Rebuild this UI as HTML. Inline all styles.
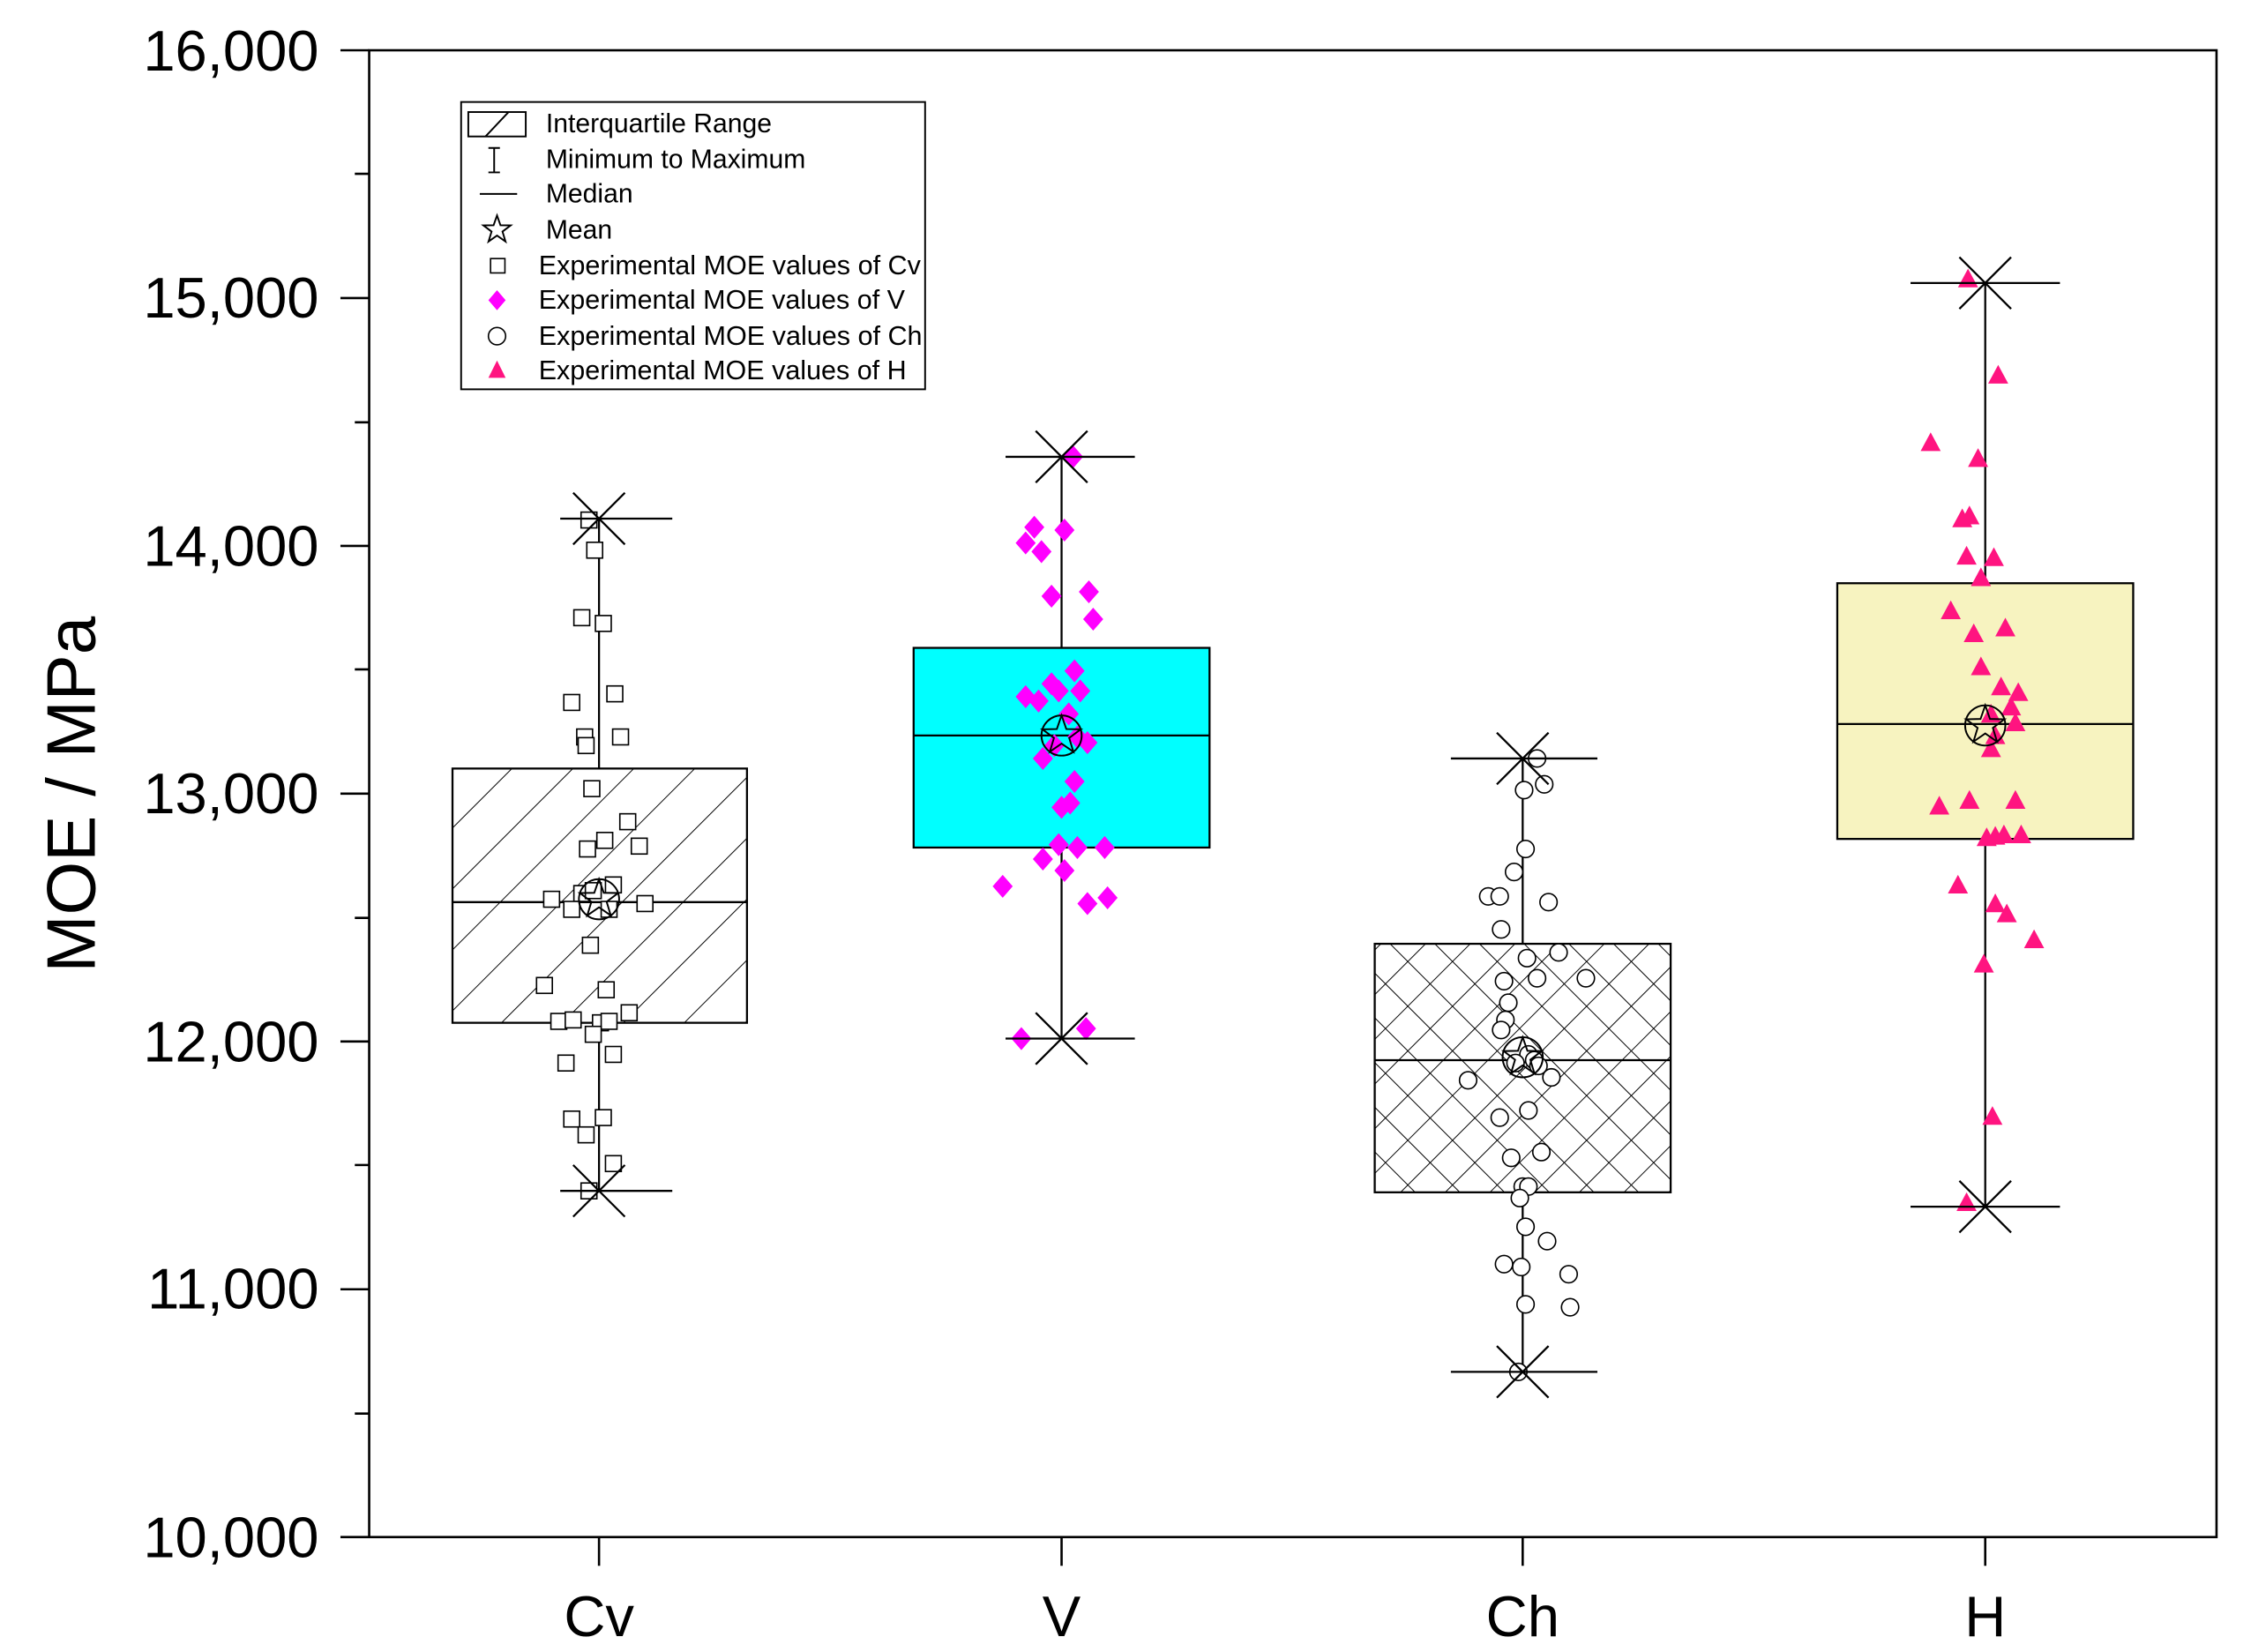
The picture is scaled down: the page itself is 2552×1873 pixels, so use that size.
<!DOCTYPE html>
<html><head><meta charset="utf-8"><style>html,body{margin:0;padding:0;background:#fff}svg{display:block}</style></head>
<body>
<svg width="2552" height="1873" viewBox="0 0 1567 1150" preserveAspectRatio="none" xmlns="http://www.w3.org/2000/svg" font-family="Liberation Sans, Arial, sans-serif">
<defs>
<pattern id="diag" patternUnits="userSpaceOnUse" width="30" height="30" patternTransform="rotate(45)">
<line x1="0" y1="0" x2="0" y2="30" stroke="#000" stroke-width="1.2"/>
</pattern>
<pattern id="cross" patternUnits="userSpaceOnUse" width="22" height="22" patternTransform="rotate(45)">
<line x1="0" y1="0" x2="0" y2="22" stroke="#000" stroke-width="1.2"/>
<line x1="0" y1="0" x2="22" y2="0" stroke="#000" stroke-width="1.2"/>
</pattern>
</defs>
<rect x="257" y="35" width="1286" height="1035" fill="#fff" stroke="#000" stroke-width="1.6"/>
<g stroke="#000" stroke-width="1.6">
<line x1="237" y1="35" x2="257" y2="35"/><line x1="237" y1="207.5" x2="257" y2="207.5"/><line x1="237" y1="380" x2="257" y2="380"/><line x1="237" y1="552.5" x2="257" y2="552.5"/><line x1="237" y1="725" x2="257" y2="725"/><line x1="237" y1="897.5" x2="257" y2="897.5"/><line x1="237" y1="1070" x2="257" y2="1070"/>
<line x1="247" y1="121" x2="257" y2="121"/><line x1="247" y1="294" x2="257" y2="294"/><line x1="247" y1="466" x2="257" y2="466"/><line x1="247" y1="639" x2="257" y2="639"/><line x1="247" y1="811" x2="257" y2="811"/><line x1="247" y1="984" x2="257" y2="984"/>
<line x1="417" y1="1070" x2="417" y2="1090"/><line x1="739" y1="1070" x2="739" y2="1090"/><line x1="1060" y1="1070" x2="1060" y2="1090"/><line x1="1382" y1="1070" x2="1382" y2="1090"/>
</g>
<g font-size="40" text-anchor="end" fill="#000">
<text x="222" y="49">16,000</text><text x="222" y="221">15,000</text><text x="222" y="394">14,000</text><text x="222" y="566">13,000</text><text x="222" y="739">12,000</text><text x="222" y="911">11,000</text><text x="222" y="1084">10,000</text>
</g>
<g font-size="40" text-anchor="middle"><text x="417" y="1139">Cv</text><text x="739" y="1139">V</text><text x="1060" y="1139">Ch</text><text x="1382" y="1139">H</text></g>
<text transform="translate(66,553) rotate(-90)" font-size="48" text-anchor="middle">MOE / MPa</text>

<g stroke="#000" stroke-width="1.4" fill="none">
<line x1="417" y1="361" x2="417" y2="829"/>
<line x1="739" y1="318" x2="739" y2="723"/>
<line x1="1060" y1="528" x2="1060" y2="955"/>
<line x1="1382" y1="197" x2="1382" y2="840"/>
</g>
<rect x="315" y="535" width="205" height="177" fill="#fff" stroke="none"/>
<rect x="315" y="535" width="205" height="177" fill="url(#diag)" stroke="#000" stroke-width="1.4"/>
<rect x="636" y="451" width="206" height="139" fill="#00ffff" stroke="#000" stroke-width="1.4"/>
<rect x="957" y="657" width="206" height="173" fill="#fff" stroke="none"/>
<rect x="957" y="657" width="206" height="173" fill="url(#cross)" stroke="#000" stroke-width="1.4"/>
<rect x="1279" y="406" width="206" height="178" fill="#f7f3c0" stroke="#000" stroke-width="1.4"/>
<g stroke="#000" stroke-width="1.4">
<line x1="315" y1="628" x2="520" y2="628"/><line x1="636" y1="512" x2="842" y2="512"/><line x1="957" y1="738" x2="1163" y2="738"/><line x1="1279" y1="504" x2="1485" y2="504"/>
</g>

<g fill="#fff" stroke="#000" stroke-width="1">
<rect x="404.5" y="356.5" width="11" height="11"/><rect x="408.5" y="377.5" width="11" height="11"/><rect x="399.5" y="424.5" width="11" height="11"/><rect x="414.5" y="428.5" width="11" height="11"/><rect x="392.5" y="483.5" width="11" height="11"/><rect x="422.5" y="477.5" width="11" height="11"/><rect x="401.5" y="507.5" width="11" height="11"/><rect x="402.5" y="513.5" width="11" height="11"/><rect x="426.5" y="507.5" width="11" height="11"/><rect x="406.5" y="543.5" width="11" height="11"/><rect x="415.5" y="579.5" width="11" height="11"/><rect x="403.5" y="585.5" width="11" height="11"/><rect x="431.5" y="566.5" width="11" height="11"/><rect x="439.5" y="583.5" width="11" height="11"/><rect x="378.5" y="620.5" width="11" height="11"/><rect x="399.5" y="616.5" width="11" height="11"/><rect x="407.5" y="614.5" width="11" height="11"/><rect x="421.5" y="610.5" width="11" height="11"/><rect x="418.5" y="627.5" width="11" height="11"/><rect x="443.5" y="623.5" width="11" height="11"/><rect x="392.5" y="627.5" width="11" height="11"/><rect x="405.5" y="652.5" width="11" height="11"/><rect x="416.5" y="683.5" width="11" height="11"/><rect x="373.5" y="680.5" width="11" height="11"/><rect x="383.5" y="705.5" width="11" height="11"/><rect x="393.5" y="704.5" width="11" height="11"/><rect x="412.5" y="706.5" width="11" height="11"/><rect x="418.5" y="705.5" width="11" height="11"/><rect x="432.5" y="699.5" width="11" height="11"/><rect x="407.5" y="714.5" width="11" height="11"/><rect x="388.5" y="734.5" width="11" height="11"/><rect x="421.5" y="728.5" width="11" height="11"/><rect x="392.5" y="773.5" width="11" height="11"/><rect x="414.5" y="772.5" width="11" height="11"/><rect x="402.5" y="784.5" width="11" height="11"/><rect x="421.5" y="804.5" width="11" height="11"/><rect x="404.5" y="823.5" width="11" height="11"/>
</g>
<g fill="#ff00ff">
<path d="M747 310l7 8-7 8-7-8z"/><path d="M720 359l7 8-7 8-7-8z"/><path d="M741 361l7 8-7 8-7-8z"/><path d="M714 370l7 8-7 8-7-8z"/><path d="M725 376l7 8-7 8-7-8z"/><path d="M732 407l7 8-7 8-7-8z"/><path d="M758 404l7 8-7 8-7-8z"/><path d="M761 423l7 8-7 8-7-8z"/><path d="M748 459l7 8-7 8-7-8z"/><path d="M714 477l7 8-7 8-7-8z"/><path d="M732 468l7 8-7 8-7-8z"/><path d="M737 473l7 8-7 8-7-8z"/><path d="M752 473l7 8-7 8-7-8z"/><path d="M744 489l7 8-7 8-7-8z"/><path d="M723 480l7 8-7 8-7-8z"/><path d="M750 505l7 8-7 8-7-8z"/><path d="M757 509l7 8-7 8-7-8z"/><path d="M734 511l7 8-7 8-7-8z"/><path d="M726 520l7 8-7 8-7-8z"/><path d="M748 536l7 8-7 8-7-8z"/><path d="M745 551l7 8-7 8-7-8z"/><path d="M739 554l7 8-7 8-7-8z"/><path d="M737 580l7 8-7 8-7-8z"/><path d="M769 582l7 8-7 8-7-8z"/><path d="M750 582l7 8-7 8-7-8z"/><path d="M726 590l7 8-7 8-7-8z"/><path d="M741 598l7 8-7 8-7-8z"/><path d="M698 609l7 8-7 8-7-8z"/><path d="M771 617l7 8-7 8-7-8z"/><path d="M757 621l7 8-7 8-7-8z"/><path d="M756 708l7 8-7 8-7-8z"/><path d="M711 715l7 8-7 8-7-8z"/>
</g>
<g fill="#fff" stroke="#000" stroke-width="1">
<circle cx="1070" cy="528" r="6"/><circle cx="1075" cy="546" r="6"/><circle cx="1061" cy="550" r="6"/><circle cx="1062" cy="591" r="6"/><circle cx="1054" cy="607" r="6"/><circle cx="1036" cy="624" r="6"/><circle cx="1044" cy="624" r="6"/><circle cx="1078" cy="628" r="6"/><circle cx="1045" cy="647" r="6"/><circle cx="1085" cy="663" r="6"/><circle cx="1063" cy="667" r="6"/><circle cx="1047" cy="683" r="6"/><circle cx="1070" cy="681" r="6"/><circle cx="1104" cy="681" r="6"/><circle cx="1050" cy="698" r="6"/><circle cx="1048" cy="710" r="6"/><circle cx="1045" cy="717" r="6"/><circle cx="1064" cy="734" r="6"/><circle cx="1068" cy="738" r="6"/><circle cx="1055" cy="740" r="6"/><circle cx="1071" cy="742" r="6"/><circle cx="1022" cy="752" r="6"/><circle cx="1080" cy="750" r="6"/><circle cx="1044" cy="778" r="6"/><circle cx="1064" cy="773" r="6"/><circle cx="1052" cy="806" r="6"/><circle cx="1073" cy="802" r="6"/><circle cx="1060" cy="826" r="6"/><circle cx="1064" cy="826" r="6"/><circle cx="1058" cy="834" r="6"/><circle cx="1062" cy="854" r="6"/><circle cx="1077" cy="864" r="6"/><circle cx="1047" cy="880" r="6"/><circle cx="1059" cy="882" r="6"/><circle cx="1092" cy="887" r="6"/><circle cx="1062" cy="908" r="6"/><circle cx="1093" cy="910" r="6"/><circle cx="1057" cy="955" r="6"/>
</g>
<g fill="#ff1480">
<path d="M1370 187l7 13h-14z"/><path d="M1391 254l7 13h-14z"/><path d="M1344 301l7 13h-14z"/><path d="M1377 312l7 13h-14z"/><path d="M1366 354l7 13h-14z"/><path d="M1371 352l7 13h-14z"/><path d="M1388 381l7 13h-14z"/><path d="M1369 380l7 13h-14z"/><path d="M1379 395l7 13h-14z"/><path d="M1358 418l7 13h-14z"/><path d="M1374 434l7 13h-14z"/><path d="M1396 430l7 13h-14z"/><path d="M1379 457l7 13h-14z"/><path d="M1393 471l7 13h-14z"/><path d="M1405 475l7 13h-14z"/><path d="M1400 485l7 13h-14z"/><path d="M1386 490l7 13h-14z"/><path d="M1403 496l7 13h-14z"/><path d="M1389 505l7 13h-14z"/><path d="M1386 514l7 13h-14z"/><path d="M1350 554l7 13h-14z"/><path d="M1371 550l7 13h-14z"/><path d="M1403 550l7 13h-14z"/><path d="M1383 576l7 13h-14z"/><path d="M1389 575l7 13h-14z"/><path d="M1395 574l7 13h-14z"/><path d="M1407 574l7 13h-14z"/><path d="M1363 609l7 13h-14z"/><path d="M1389 622l7 13h-14z"/><path d="M1397 629l7 13h-14z"/><path d="M1416 647l7 13h-14z"/><path d="M1381 664l7 13h-14z"/><path d="M1387 770l7 13h-14z"/><path d="M1369 830l7 13h-14z"/>
</g>

<g stroke="#000" stroke-width="1.4" fill="none">
<line x1="390" y1="361" x2="468" y2="361"/><path d="M399 343l36 36M435 343l-36 36"/>
<line x1="390" y1="829" x2="468" y2="829"/><path d="M399 811l36 36M435 811l-36 36"/>
<line x1="700" y1="318" x2="790" y2="318"/><path d="M721 300l36 36M757 300l-36 36"/>
<line x1="700" y1="723" x2="790" y2="723"/><path d="M721 705l36 36M757 705l-36 36"/>
<line x1="1010" y1="528" x2="1112" y2="528"/><path d="M1042 510l36 36M1078 510l-36 36"/>
<line x1="1010" y1="955" x2="1112" y2="955"/><path d="M1042 937l36 36M1078 937l-36 36"/>
<line x1="1330" y1="197" x2="1434" y2="197"/><path d="M1364 179l36 36M1400 179l-36 36"/>
<line x1="1330" y1="840" x2="1434" y2="840"/><path d="M1364 822l36 36M1400 822l-36 36"/>
</g>
<g fill="none" stroke="#000" stroke-width="1.2">
<circle cx="417" cy="626" r="14"/><path transform="translate(417,626)" d="M0-14L3.3-4.5 13.3-4.3 5.3 1.7 8.2 11.3 0 5.6-8.2 11.3-5.3 1.7-13.3-4.3-3.3-4.5Z"/>
<circle cx="739" cy="512" r="14"/><path transform="translate(739,512)" d="M0-14L3.3-4.5 13.3-4.3 5.3 1.7 8.2 11.3 0 5.6-8.2 11.3-5.3 1.7-13.3-4.3-3.3-4.5Z"/>
<circle cx="1060" cy="736" r="14"/><path transform="translate(1060,736)" d="M0-14L3.3-4.5 13.3-4.3 5.3 1.7 8.2 11.3 0 5.6-8.2 11.3-5.3 1.7-13.3-4.3-3.3-4.5Z"/>
<circle cx="1382" cy="505" r="14"/><path transform="translate(1382,505)" d="M0-14L3.3-4.5 13.3-4.3 5.3 1.7 8.2 11.3 0 5.6-8.2 11.3-5.3 1.7-13.3-4.3-3.3-4.5Z"/>
</g>

<rect x="321" y="71" width="323" height="200" fill="#fff" stroke="#000" stroke-width="1.2"/>
<g stroke="#000" stroke-width="1.2" fill="none">
<rect x="326" y="78" width="40" height="17"/><line x1="338" y1="95" x2="354" y2="78"/>
<path d="M340 103h8M344 103v17M340 120h8"/>
<line x1="334" y1="135" x2="360" y2="135"/>
<path transform="translate(346,160)" d="M0-10L2.4-3.2 9.5-3.1 3.8 1.2 5.9 8.1 0 4-5.9 8.1-3.8 1.2-9.5-3.1-2.4-3.2Z"/>
<rect x="341.5" y="180" width="10" height="10" stroke-width="1"/>
<circle cx="346" cy="234" r="6" stroke-width="1"/>
</g>
<path d="M346 202l6 7-6 7-6-7z" fill="#ff00ff"/>
<path d="M346 251l6 12h-12z" fill="#ff1480"/>
<g font-size="18.5" fill="#000">
<text x="380" y="92">Interquartile Range</text>
<text x="380" y="117">Minimum to Maximum</text>
<text x="380" y="141">Median</text>
<text x="380" y="166">Mean</text>
<text x="375" y="191" textLength="266" lengthAdjust="spacingAndGlyphs">Experimental MOE values of Cv</text>
<text x="375" y="215" textLength="255" lengthAdjust="spacingAndGlyphs">Experimental MOE values of V</text>
<text x="375" y="240" textLength="267" lengthAdjust="spacingAndGlyphs">Experimental MOE values of Ch</text>
<text x="375" y="264" textLength="256" lengthAdjust="spacingAndGlyphs">Experimental MOE values of H</text>
</g>
</svg>
</body></html>
